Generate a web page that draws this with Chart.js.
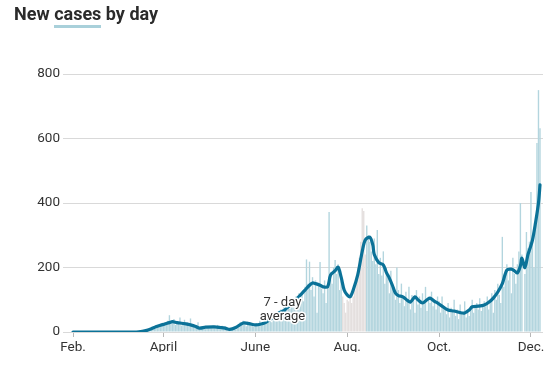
<!DOCTYPE html>
<html>
<head>
<meta charset="utf-8">
<script src="https://cdn.jsdelivr.net/npm/chart.js@4.4.1/dist/chart.umd.min.js"></script>
<style>
  html, body { margin: 0; padding: 0; background: #fff; }
  #wrap { position: relative; width: 555px; height: 367px; }
  h1 {
    position: absolute; left: 14px; top: 3px; margin: 0;
    font: bold 18px Roboto, "DejaVu Sans", sans-serif; color: #2b2b2b;
  }
  h1 .u { border-bottom: 3px solid #a9d0da; padding-bottom: 1px; }
  #box { position: absolute; left: 0; top: 0; width: 555px; height: 367px; }
</style>
</head>
<body>
<div id="wrap">
  <div id="box"><canvas id="chart"></canvas></div>
  <h1>New <span class="u">cases</span> by day</h1>
</div>
<script>
// --- DATA ---
// daily new cases, day 0 = Feb. 1
const casesFeb = [0,0,0,0,0,0,0,0,0,0, 0,0,0,0,0,0,0,0,0,0, 0,0,0,0,0,0,0,0,0];
const casesMar = [0,0,0,0,0,0,0,0,1,0,1,2,1,3,2, 4,3,5,6,4,8,10,12,9,15,18,20,14,22,25,19];
const casesApr = [24,30,28,35,52,26,31,40,22,33, 29,45,20,27,38,24,30,18,42,21, 24,18,22,30,12,16,10,15,9,14];
const casesMay = [14,18,12,20,16,10,22,15,13,19, 11,17,14,9,6,10,8,12,7,20, 25,30,22,35,28,18,32,24,20,26, 16];
const casesJun = [18,28,22,35,20,30,26,45,32,38, 42,30,50,48,55,62,58,70,52,80, 75,68,90,72,85,100,78,110,95,120];
const casesJul = [100,120,95,140,225,150,218,130,170,110, 160,60,150,217,135,120,160,90,140,372, 185,150,200,223,180,210,130,160,110,90, 60];
const casesAug = [100,95,120,90,110,130,160,200,230,280, 384,375,240,330,300,280,250,220,290,210, 316,180,230,175,250,150,200,170,120,190, 150];
const casesSep = [140,100,200,130,90,150,110,80,125,95, 140,70,115,100,60,130,85,110,75,120, 95,140,65,105,90,125,80,100,70,110];
const casesOct = [95,60,110,80,70,55,90,45,75,65, 100,50,70,40,85,60,55,95,45,65, 50,80,100,60,75,90,70,105,65,85, 95];
const casesNov = [80,110,70,95,120,60,130,100,150,115, 90,295,140,175,210,160,195,120,230,180, 150,210,250,400,240,0,180,310,260,280];
const casesDec = [434,300,200,330,586,750,632];

// days with incomplete reporting (grey bars)
const pendingFrom = 179;
const pendingTo = 194;

// 7-day average
const avgDays   = [0,42,46,49,52,55,58,61,64,66,69,71,75,78,81,84,88,94,98,101,104,108,113,117,121,125,128,131,134,137,140,142,146,149,152,154,157,159,161,164,166,169,171,174,176,178,180,182,184,186,189,192,194,197,199,200,203,206,208,210,212,214,216,219,222,224,227,229,232,235,237,240,242,245,249,253,257,260,263,265,269,273,276,279,282,285,288,291,293,295,297,298,300,302,303,305,307,309,310];
const avgValues = [0,0,2,5,10,16,21,25,29,32,29,28,25,22,18,12,15,16,14,12,8,14,28,26,22,25,30,40,48,60,66,75,90,105,120,130,145,152,150,145,140,140,177,190,201,170,130,115,109,130,177,250,285,294,270,240,215,208,185,167,145,121,113,109,98,93,109,100,90,100,105,95,90,80,68,65,60,59,68,78,80,84,92,105,124,150,192,195,190,183,205,229,200,240,254,285,338,400,456];

const monthTickDays   = [0, 60, 121, 182, 243, 304];
const monthTickLabels = ['Feb.', 'April', 'June', 'Aug.', 'Oct.', 'Dec.'];
const yTicks = [0, 200, 400, 600, 800];

const dailyCases = [].concat(casesFeb, casesMar, casesApr, casesMay, casesJun,
  casesJul, casesAug, casesSep, casesOct, casesNov, casesDec);

const FONT = 'Roboto, "DejaVu Sans", sans-serif';

// "7 - day average" label with a white halo
const noteLabel = {
  id: 'noteLabel',
  afterDatasetsDraw(chart) {
    const { ctx, scales } = chart;
    const x = scales.x.getPixelForValue(139);
    const y = scales.y.getPixelForValue(92);
    ctx.save();
    ctx.font = '13px ' + FONT;
    ctx.textAlign = 'center';
    ctx.textBaseline = 'middle';
    ctx.lineJoin = 'round';
    ctx.lineWidth = 3;
    ctx.strokeStyle = '#fff';
    ctx.fillStyle = '#333';
    ['7 - day', 'average'].forEach((t, i) => {
      ctx.strokeText(t, x, y + i * 14);
      ctx.fillText(t, x, y + i * 14);
    });
    ctx.restore();
  }
};

new Chart(document.getElementById('chart'), {
  data: {
    datasets: [
      {
        type: 'line',
        data: avgDays.map((d, i) => ({ x: d, y: avgValues[i] })),
        borderColor: '#0b7298',
        borderWidth: 3.2,
        borderCapStyle: 'round',
        borderJoinStyle: 'round',
        pointRadius: 0,
        tension: 0.3,
        order: 0
      },
      {
        type: 'bar',
        data: dailyCases.map((v, i) => ({ x: i, y: v })),
        backgroundColor: ctx => (ctx.raw && ctx.raw.x >= pendingFrom && ctx.raw.x <= pendingTo) ? '#e4dfde' : '#b3d5de',
        barPercentage: 1,
        categoryPercentage: 0.92,
        order: 1
      }
    ]
  },
  options: {
    responsive: true,
    maintainAspectRatio: false,
    animation: false,
    layout: { padding: { top: 74, right: 12, bottom: 15, left: 0 } },
    plugins: { legend: { display: false }, tooltip: { enabled: false } },
    scales: {
      x: {
        type: 'linear',
        min: -2,
        max: 312,
        offset: false,
        afterBuildTicks: s => { s.ticks = monthTickDays.map(v => ({ value: v })); },
        afterFit: s => { s.height = 20; },
        ticks: {
          autoSkip: false,
          maxRotation: 0,
          padding: 3,
          color: '#333',
          font: { family: FONT, size: 13.5 },
          callback: v => monthTickLabels[monthTickDays.indexOf(v)] || ''
        },
        grid: { offset: false, drawOnChartArea: false, tickLength: 5, color: '#b8b8b8' },
        border: { display: false }
      },
      y: {
        min: 0,
        max: 800,
        afterBuildTicks: s => { s.ticks = yTicks.map(v => ({ value: v })); },
        afterFit: s => { s.width = 70; },
        ticks: {
          padding: 3,
          color: '#333',
          font: { family: FONT, size: 13.5 }
        },
        grid: { color: '#d9d9d9', tickLength: 7 },
        border: { display: false }
      }
    }
  },
  plugins: [noteLabel]
});
</script>
</body>
</html>
